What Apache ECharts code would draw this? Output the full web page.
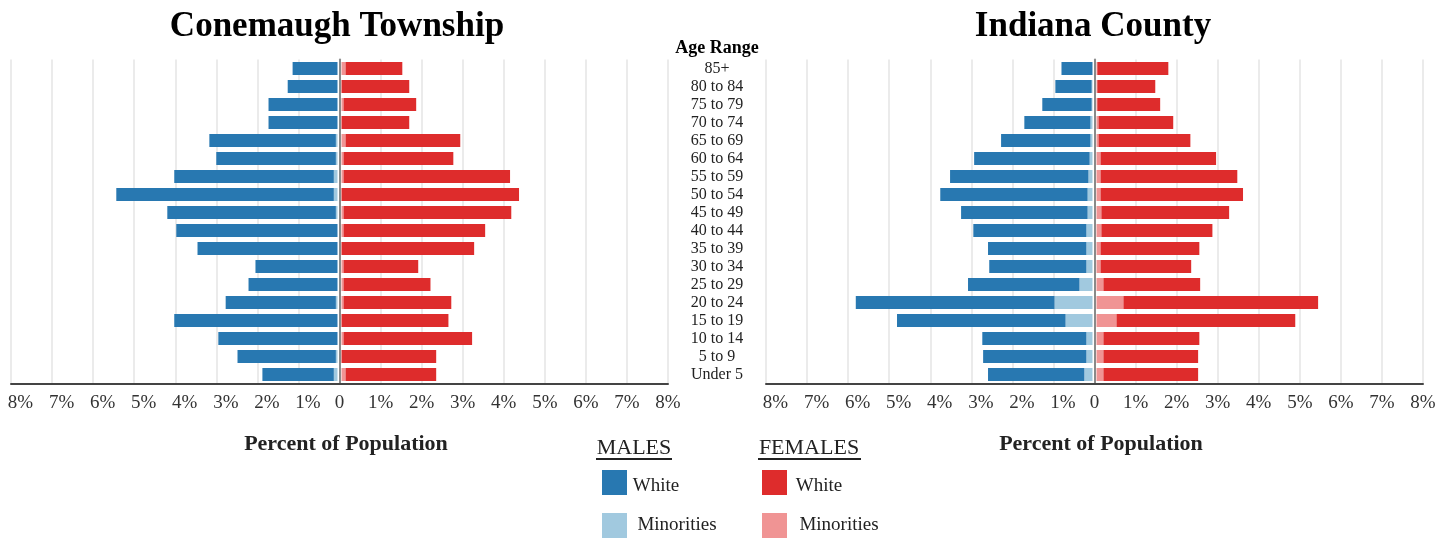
<!DOCTYPE html>
<html lang="en">
<head>
    <meta charset="UTF-8">
    <title>Population pyramids</title>
    <script type="text/javascript" src="https://cdn.jsdelivr.net/npm/echarts@6/dist/echarts.min.js"></script>
</head>
<body style="margin:0">
<div id="main" style="width: 1456px;height:540px;"></div>
<script type="text/javascript">
    // age groups, top row first
    var ages = ['85+', '80 to 84', '75 to 79', '70 to 74', '65 to 69', '60 to 64', '55 to 59', '50 to 54',
        '45 to 49', '40 to 44', '35 to 39', '30 to 34', '25 to 29', '20 to 24', '15 to 19', '10 to 14',
        '5 to 9', 'Under 5'];

    // Conemaugh Township, percent of population
    var conMaleWhite = [1.10, 1.22, 1.69, 1.69, 3.10, 2.93, 3.91, 5.33, 4.13, 3.95, 3.43, 2.01, 2.18, 2.70, 4.00, 2.92, 2.41, 1.75];
    var conMaleMin = [0, 0, 0, 0, 0.04, 0.04, 0.09, 0.09, 0.04, 0, 0, 0, 0, 0.04, 0, 0, 0.04, 0.09];
    var conFemaleWhite = [1.39, 1.66, 1.78, 1.66, 2.81, 2.69, 4.08, 4.35, 4.11, 3.47, 3.25, 1.83, 2.13, 2.64, 2.62, 3.15, 2.32, 2.22];
    var conFemaleMin = [0.1, 0, 0.05, 0, 0.1, 0.05, 0.05, 0, 0.05, 0.05, 0, 0.05, 0.05, 0.05, 0, 0.05, 0, 0.1];

    // Indiana County, percent of population
    var indMaleWhite = [0.76, 0.89, 1.21, 1.62, 2.19, 2.83, 3.39, 3.61, 3.10, 2.77, 2.41, 2.38, 2.73, 4.87, 4.13, 2.55, 2.53, 2.36];
    var indMaleMin = [0, 0.02, 0.02, 0.05, 0.05, 0.07, 0.1, 0.12, 0.12, 0.15, 0.15, 0.15, 0.32, 0.93, 0.66, 0.15, 0.15, 0.2];
    var indFemaleWhite = [1.74, 1.42, 1.54, 1.83, 2.25, 2.83, 3.35, 3.49, 3.13, 2.72, 2.42, 2.22, 2.37, 4.77, 4.38, 2.35, 2.32, 2.32];
    var indFemaleMin = [0.02, 0.02, 0.02, 0.05, 0.05, 0.1, 0.1, 0.1, 0.12, 0.12, 0.1, 0.1, 0.17, 0.66, 0.49, 0.17, 0.17, 0.17];

    var tickValues = [-8, -7, -6, -5, -4, -3, -2, -1, 0, 1, 2, 3, 4, 5, 6, 7, 8];

    var SERIF = '"Liberation Serif", "DejaVu Serif", serif';
    var C_MW = '#2878b1', C_MM = '#a1c9df', C_FW = '#de2c2c', C_FM = '#f09494';
    var TOP = 59.5, HEIGHT = 324;

    // male side labels sit a little right of their gridline, as if the minus sign were blanked
    function tickFmt(v) {
        if (tickValues.indexOf(v) < 0) return '';
        if (v === 0) return '0';
        if (v < 0) return '{n|' + Math.abs(v) + '%}';
        return v + '%';
    }

    // frame grid: gridlines, bottom axis, center line
    function frameAxes(idx) {
        return {
            x: {
                gridIndex: idx, type: 'value', min: -8, max: 8, interval: 1,
                axisLine: {show: true, lineStyle: {color: '#444', width: 2}},
                axisTick: {show: false},
                splitLine: {show: true, lineStyle: {color: '#e4e4e4', width: 1.5}},
                axisLabel: {
                    margin: 10, fontFamily: SERIF, fontSize: 19, color: '#333', formatter: tickFmt,
                    rich: {n: {fontFamily: SERIF, fontSize: 19, color: '#333', padding: [0, 0, 0, 19]}}
                }
            },
            y: {
                gridIndex: idx, type: 'category', data: ages, inverse: true,
                axisLine: {show: true, onZero: true, lineStyle: {color: '#8a8a8a', width: 2}},
                axisTick: {show: false}, axisLabel: {show: false}, splitLine: {show: false}
            }
        };
    }

    function barAxes(idx, inverse, showAges) {
        return {
            x: {gridIndex: idx, type: 'value', min: 0, max: 8, inverse: inverse, show: false},
            y: {
                gridIndex: idx, type: 'category', data: ages, inverse: true,
                position: 'right', show: !!showAges,
                axisLine: {show: false}, axisTick: {show: false}, splitLine: {show: false},
                axisLabel: {
                    show: !!showAges, interval: 0, margin: 49, align: 'center',
                    fontFamily: SERIF, fontSize: 16, color: '#222'
                }
            }
        };
    }

    var axes = [
        frameAxes(0), barAxes(1, true, false), barAxes(2, false, true),
        frameAxes(3), barAxes(4, true, false), barAxes(5, false, false)
    ];

    var grids = [
        {left: 11, top: TOP, width: 657, height: HEIGHT},
        {left: 11, top: TOP, width: 326.5, height: HEIGHT},
        {left: 341.5, top: TOP, width: 326.5, height: HEIGHT},
        {left: 766, top: TOP, width: 657, height: HEIGHT},
        {left: 766, top: TOP, width: 326.5, height: HEIGHT},
        {left: 1096.5, top: TOP, width: 326.5, height: HEIGHT}
    ];

    function bar(idx, stack, name, data, color) {
        return {
            name: name, type: 'bar', stack: stack, data: data,
            xAxisIndex: idx, yAxisIndex: idx, barWidth: 13,
            itemStyle: {color: color}, silent: true
        };
    }

    var series = [
        bar(1, 'cm', 'Minorities', conMaleMin, C_MM),
        bar(1, 'cm', 'White', conMaleWhite, C_MW),
        bar(2, 'cf', 'Minorities', conFemaleMin, C_FM),
        bar(2, 'cf', 'White', conFemaleWhite, C_FW),
        bar(4, 'im', 'Minorities', indMaleMin, C_MM),
        bar(4, 'im', 'White', indMaleWhite, C_MW),
        bar(5, 'if', 'Minorities', indFemaleMin, C_FM),
        bar(5, 'if', 'White', indFemaleWhite, C_FW)
    ];

    function txt(str, x, y, size, weight, color) {
        return {
            type: 'text', x: x, y: y, silent: true,
            style: {
                text: str, fontFamily: SERIF, fontSize: size, fontWeight: weight || 'normal',
                fill: color || '#111', align: 'center', verticalAlign: 'middle',
                textAlign: 'center', textVerticalAlign: 'middle'
            }
        };
    }

    function rect(x, y, color) {
        return {type: 'rect', silent: true, shape: {x: x, y: y, width: 25, height: 25}, style: {fill: color}};
    }

    function uline(x1, x2, y) {
        return {type: 'line', silent: true, shape: {x1: x1, y1: y, x2: x2, y2: y}, style: {stroke: '#222', lineWidth: 2}};
    }

    var graphics = [
        txt('Conemaugh Township', 337, 27, 35, 'bold', '#000'),
        txt('Indiana County', 1093, 27, 35, 'bold', '#000'),
        txt('Age Range', 717, 48, 18, 'bold', '#000'),
        txt('Percent of Population', 346, 444, 22, 'bold', '#222'),
        txt('Percent of Population', 1101, 444, 22, 'bold', '#222'),
        txt('MALES', 634, 448, 22, 'normal', '#222'),
        uline(596, 672, 459),
        txt('FEMALES', 809, 448, 22, 'normal', '#222'),
        uline(758, 861, 459),
        rect(602, 470, C_MW), txt('White', 656, 486, 19, 'normal', '#222'),
        rect(602, 513, C_MM), txt('Minorities', 677, 525, 19, 'normal', '#222'),
        rect(762, 470, C_FW), txt('White', 819, 486, 19, 'normal', '#222'),
        rect(762, 513, C_FM), txt('Minorities', 839, 525, 19, 'normal', '#222')
    ];

    var option = {
        animation: false,
        backgroundColor: '#fff',
        grid: grids,
        xAxis: axes.map(function (a) { return a.x; }),
        yAxis: axes.map(function (a) { return a.y; }),
        series: series,
        graphic: graphics
    };

    var myChart = echarts.init(document.getElementById('main'));
    myChart.setOption(option);
</script>
</body>
</html>
